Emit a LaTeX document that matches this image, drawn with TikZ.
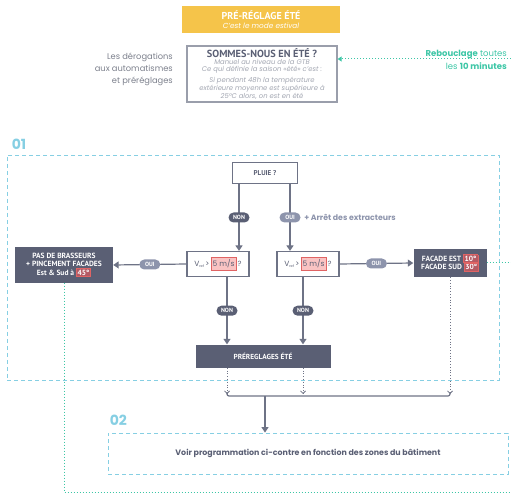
\documentclass[tikz,border=0pt]{standalone}
\usepackage{fontspec}
\setmainfont{Poppins}
\newfontfamily\boxfont{PT Sans}
\usetikzlibrary{arrows.meta, positioning, calc}

\definecolor{slate}{HTML}{5A5F74}
\definecolor{slatelight}{HTML}{8D94AC}
\definecolor{linegray}{HTML}{6E7386}
\definecolor{textgray}{HTML}{7C808C}
\definecolor{notegray}{HTML}{A3A7B2}
\definecolor{framegray}{HTML}{9A9EAB}
\definecolor{sky}{HTML}{86CFE3}
\definecolor{loopteal}{HTML}{3DC6A6}
\definecolor{sunny}{HTML}{F5C44A}
\definecolor{alert}{HTML}{E06464}
\definecolor{alertfill}{HTML}{F9C3C3}
\definecolor{alertdark}{HTML}{B45A64}

% red highlight around a value
\newcommand{\hlbox}[1]{{\setlength{\fboxsep}{1.4pt}\setlength{\fboxrule}{0.6pt}\fcolorbox{alert}{alertfill}{\strut #1}}}
\newcommand{\hldark}[1]{{\setlength{\fboxsep}{1pt}\setlength{\fboxrule}{0.6pt}\fcolorbox{alert}{alertdark}{#1}}}
\newcommand{\vref}{V\raisebox{-1.5pt}{\fontsize{3.5}{4}\selectfont ref}\,>\,\hlbox{5 m/s}\,?}

\begin{document}
\begin{tikzpicture}[x=1pt, y=-1pt,
  font=\fontsize{8}{10}\selectfont,
  question/.style={rectangle, draw=linegray, line width=1.2pt, fill=white,
    text=slate, inner sep=1pt, minimum width=62pt, minimum height=25pt},
  action/.style={rectangle, fill=slate, text=white, align=center,
    font=\boxfont\bfseries\fontsize{7.5}{8.5}\selectfont, inner sep=2pt},
  pill/.style={rectangle, rounded corners=5pt, fill=slate, text=white,
    font=\boxfont\bfseries\fontsize{6}{6}\selectfont,
    minimum width=21pt, minimum height=10pt, inner sep=1pt},
  nonpill/.style={pill},
  ouipill/.style={pill, fill=slatelight},
  arrow/.style={-{Triangle[length=5.5pt, width=7pt]}, line width=1.2pt, draw=linegray},
  zone/.style={draw=sky, line width=0.8pt, dash pattern=on 4pt off 3pt},
  zonelabel/.style={text=sky, inner sep=0pt,
    font=\bfseries\fontsize{14}{14}\selectfont},
  reloop/.style={draw=loopteal, line width=1pt, dotted},
  merge/.style={draw=linegray, line width=0.8pt, dotted,
    -{Straight Barb[length=2.5pt, width=5pt]}}
]
\useasboundingbox (0,0) rectangle (511,494);

% header
\node[rectangle, fill=sunny, text=white, align=center,
  minimum width=158pt, minimum height=27pt, inner sep=1pt] (title) at (261,20)
  {{\boxfont\bfseries\fontsize{10}{10}\selectfont PRÉ-RÉGLAGE ÉTÉ}\\[-1pt]
   {\itshape\fontsize{7.3}{8}\selectfont C'est le mode estival}};
\node[rectangle, draw=framegray, line width=1.3pt, fill=white, align=center,
  minimum width=150pt, minimum height=56pt, inner sep=1pt, text=notegray,
  font=\itshape\fontsize{6.8}{7}\selectfont] (sommes) at (262,74)
  {{\boxfont\bfseries\upshape\fontsize{10.3}{11}\selectfont\textcolor{slate}{SOMMES-NOUS EN ÉTÉ ?}}\\[0pt]
   Manuel au niveau de la GTB\\
   Ce qui définie la saison «été» c'est :\\[3pt]
   Si pendant 48h la température\\
   extérieure moyenne est supérieure à\\
   25°C alors, on est en été};
\node[align=right, anchor=east, text=textgray, inner sep=0pt,
  font=\fontsize{8.3}{12}\selectfont] (derog) at (173,69)
  {Les dérogations\\aux automatismes\\et préréglages};
\node[align=right, anchor=east, text=loopteal, inner sep=0pt,
  font=\fontsize{8.5}{13}\selectfont] (reboucl) at (507,60)
  {\textbf{Rebouclage} toutes\\les \textbf{10 minutes}};

% zone 01
\node[zone, minimum width=492pt, minimum height=225pt] (zone01) at (253,267.5) {};
\node[zonelabel, above right=5pt and 5pt of zone01.north west] (lab01) {01};

\node[question, minimum width=65pt, minimum height=21pt,
  font=\boxfont\bfseries\fontsize{7}{7}\selectfont] (pluie) at (265,173) {PLUIE ?};
\node[question, font=\fontsize{7.5}{9}\selectfont] (vrefL) at (218,264) {\vref};
\node[question, font=\fontsize{7.5}{9}\selectfont] (vrefR) at (308,264) {\vref};
\node[action, minimum width=98pt, minimum height=35pt] (brass) at (64,265)
  {PAS DE BRASSEURS\\+ PINCEMENT FACADES\\Est \& Sud à \hldark{45°}};
\node[action, minimum width=73pt, minimum height=28pt] (facade) at (450,263)
  {FACADE EST \hldark{10°}\\[-1pt]FACADE SUD \hldark{30°}};
\node[action, minimum width=135pt, minimum height=23pt,
  font=\boxfont\bfseries\fontsize{7.3}{8}\selectfont] (prereg) at (263,356) {PRÉREGLAGES ÉTÉ};

\draw[arrow] ([xshift=-26pt]pluie.south) -- node[nonpill] {NON}
  ([xshift=-26pt]pluie.south |- vrefL.north);
\draw[arrow] ([xshift=25pt]pluie.south) -- node[ouipill] (ouiP) {OUI}
  ([xshift=25pt]pluie.south |- vrefR.north);
\node[right=3pt of ouiP, inner sep=0pt, text=slatelight,
  font=\bfseries\fontsize{7.8}{9}\selectfont] (arret) {+ Arrêt des extracteurs};
\draw[arrow] (vrefL.west) -- node[ouipill] {OUI} (brass.east);
\draw[arrow] (vrefR.east) -- node[ouipill] {OUI} (facade.west);
\draw[arrow] ([xshift=9pt]vrefL.south) -- node[nonpill] {NON}
  ([xshift=9pt]vrefL.south |- prereg.north);
\draw[arrow] ([xshift=-5pt]vrefR.south) -- node[nonpill] {NON}
  ([xshift=-5pt]vrefR.south |- prereg.north);

% merge towards zone 02
\coordinate (mergeL) at (227,396);
\coordinate (mergeM) at (303,396);
\coordinate (mergeR) at (450,396);
\coordinate (mergeOut) at (265,396);
\draw[merge] (prereg.south -| mergeL) -- ($(mergeL)+(0,-2)$);
\draw[merge] (prereg.south -| mergeM) -- ($(mergeM)+(0,-2)$);
\draw[merge] (facade.south) -- ($(mergeR)+(0,-2)$);
\draw[line width=1.2pt, linegray, rounded corners=2pt]
  ($(mergeL)+(0,-4)$) -- (mergeL) -- (mergeR) -- ($(mergeR)+(0,-4)$);

% zone 02
\node[zone, minimum width=400pt, minimum height=41pt, text=slate,
  font=\bfseries\fontsize{7.9}{9}\selectfont] (zone02) at (308,453.5)
  {Voir programmation ci-contre en fonction des zones du bâtiment};
\node[zonelabel, above right=7pt and 2pt of zone02.north west] (lab02) {02};
\draw[arrow] (mergeOut) -- (mergeOut |- zone02.north);

% ten-minute loop
\coordinate (reloopTop) at (511,59);
\coordinate (reloopBot) at (511,492);
\draw[reloop] (brass.south) |- (reloopBot);
\draw[reloop] (facade.east) -- (facade.east -| reloopBot);
\draw[reloop, -{Triangle[length=4pt, width=5pt]}] (reloopTop) -- (reloopTop -| sommes.east);
\end{tikzpicture}
\end{document}
